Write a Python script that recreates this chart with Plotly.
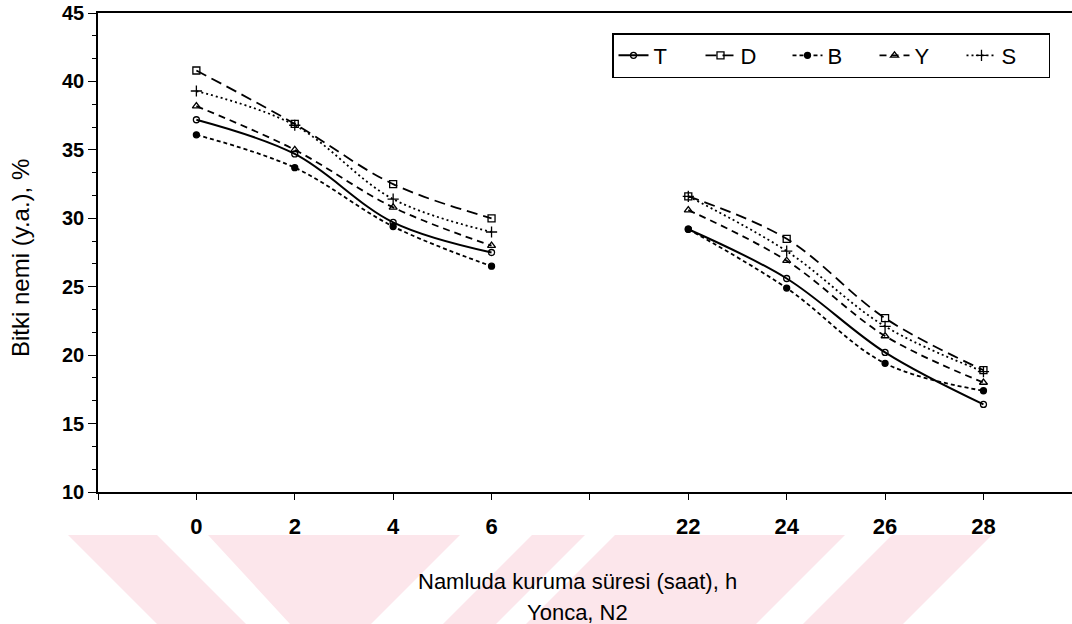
import plotly.graph_objects as go

# Drying time on the swath (hours) and the axis slot each one occupies
hours = [0, 2, 4, 6, 22, 24, 26, 28]
slots = [1, 2, 3, 4, 6, 7, 8, 9]
tick_slots = [0, 1, 2, 3, 4, 5, 6, 7, 8, 9]
tick_text = ["", "0", "2", "4", "6", "", "22", "24", "26", "28"]
y_ticks = [10, 15, 20, 25, 30, 35, 40, 45]

# Plant moisture (w.b.), %
T = [37.2, 34.7, 29.7, 27.5, 29.2, 25.6, 20.2, 16.4]
D = [40.8, 36.9, 32.5, 30.0, 31.6, 28.5, 22.7, 18.9]
B = [36.1, 33.7, 29.4, 26.5, 29.2, 24.9, 19.4, 17.4]
Y = [38.2, 35.0, 30.8, 28.0, 30.6, 26.9, 21.4, 18.0]
S = [39.3, 36.8, 31.4, 29.0, 31.6, 27.6, 22.1, 18.8]

series = [
    ("T", T, "solid", 2.0, "circle-open", 6),
    ("D", D, "11px,6px", 1.8, "square-open", 7),
    ("B", B, "4px,3px", 1.8, "circle", 6),
    ("Y", Y, "7px,5px", 1.8, "triangle-up-open", 7),
    ("S", S, "2px,3px", 1.8, "cross-thin-open", 8),
]


def with_gap(xs, ys):
    """Split the early and late readings so the line breaks between 6 h and 22 h."""
    gx, gy = [], []
    for i, (x, y) in enumerate(zip(xs, ys)):
        if i > 0 and x - xs[i - 1] > 1:
            gx.append(None)
            gy.append(None)
        gx.append(x)
        gy.append(y)
    return gx, gy


fig = go.Figure()
for name, vals, dash, lw, sym, msize in series:
    gx, gy = with_gap(slots, vals)
    fig.add_trace(go.Scatter(
        x=gx, y=gy, name=name, mode="lines+markers",
        connectgaps=False,
        line=dict(color="black", width=lw, dash=dash, shape="spline", smoothing=1),
        marker=dict(symbol=sym, size=msize, color="black",
                    line=dict(color="black", width=1.3)),
    ))

# Page geometry (pixels) used to place decoration in paper coordinates
L, R, TOP, BOT = 98, 1072, 13, 492
W, H = R - L, BOT - TOP


def px(x):
    return (x - L) / W


def py(y):
    return (BOT - y) / H


# Light pink watermark stripes under the axis titles:
# each entry is (top-left x, top-right x, bottom-right x, bottom-left x)
wm_top, wm_bot = 535, 624
stripes = [
    (68, 157, 246, 157),
    (208, 460, 371, 290),
    (532, 585, 496, 443),
    (615, 845, 756, 526),
    (892, 992, 903, 803),
]
shapes = []
for a, b, c, d in stripes:
    path = (f"M {px(a)},{py(wm_top)} L {px(b)},{py(wm_top)} "
            f"L {px(c)},{py(wm_bot)} L {px(d)},{py(wm_bot)} Z")
    shapes.append(dict(type="path", path=path, xref="paper", yref="paper",
                       fillcolor="rgb(252,230,235)", line=dict(width=0),
                       layer="below"))

font = "Liberation Sans, Arial, sans-serif"
annotations = [
    dict(text="Namluda kuruma süresi (saat), h", x=px(577), y=py(581),
         xref="paper", yref="paper", showarrow=False,
         font=dict(family=font, size=22, color="black"), yanchor="middle"),
    dict(text="Yonca, N2", x=px(577), y=py(612),
         xref="paper", yref="paper", showarrow=False,
         font=dict(family=font, size=22, color="black"), yanchor="middle"),
    dict(text="Bitki nemi (y.a.), %", x=px(20), y=py(258),
         xref="paper", yref="paper", showarrow=False, textangle=-90,
         font=dict(family=font, size=24, color="black"),
         xanchor="center", yanchor="middle"),
]

fig.update_layout(
    width=1072, height=624,
    margin=dict(l=L, r=0, t=TOP, b=624 - BOT),
    paper_bgcolor="white", plot_bgcolor="white",
    font=dict(family=font, color="black"),
    shapes=shapes, annotations=annotations,
    showlegend=True,
    legend=dict(
        orientation="h", x=px(1050), xanchor="right", y=py(33), yanchor="top",
        bordercolor="black", borderwidth=1.5, bgcolor="white",
        font=dict(family=font, size=22, color="black"),
        entrywidth=42, entrywidthmode="pixels", tracegroupgap=0,
    ),
    xaxis=dict(
        range=[0, 9.9], tickmode="array", tickvals=tick_slots, ticktext=tick_text,
        showgrid=False, zeroline=False, showline=True, linecolor="black",
        linewidth=1.5, mirror=True, ticks="outside", ticklen=6, tickwidth=1.2,
        tickcolor="black", ticklabelstandoff=8, automargin=False,
        tickfont=dict(family=font, size=22, color="black", weight="bold"),
    ),
    yaxis=dict(
        range=[10, 45.001], tickmode="array", tickvals=y_ticks,
        showgrid=False, zeroline=False, showline=True, linecolor="black",
        linewidth=1.5, ticks="outside", ticklen=8, tickwidth=1.2, tickcolor="black",
        ticklabeloverflow="allow", automargin=False,
        minor=dict(dtick=5 / 3, tick0=10, ticks="outside", ticklen=4,
                   tickcolor="black", tickwidth=1),
        tickfont=dict(family=font, size=20, color="black", weight="bold"),
    ),
)

fig.write_html("out.html")
